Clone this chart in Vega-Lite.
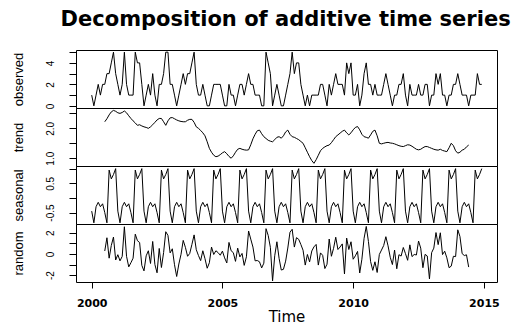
{
"$schema": "https://vega.github.io/schema/vega-lite/v6.json",
"background": "white",
"padding": {"left": 11, "top": 8, "right": 5, "bottom": 0},
"title": {"text": "Decomposition of additive time series", "font": "DejaVu Sans", "fontSize": 21, "fontWeight": "bold", "color": "black", "anchor": "middle", "offset": 20, "dx": 30},
"datasets": {"d": [
{"time":2000.0,"observed":1,"trend":null,"seasonal":-0.45,"random":null},
{"time":2000.083,"observed":0,"trend":null,"seasonal":-0.85,"random":null},
{"time":2000.167,"observed":1,"trend":null,"seasonal":-0.3,"random":null},
{"time":2000.25,"observed":2,"trend":null,"seasonal":-0.15,"random":null},
{"time":2000.333,"observed":1,"trend":null,"seasonal":-0.3,"random":null},
{"time":2000.417,"observed":2,"trend":null,"seasonal":-0.2,"random":null},
{"time":2000.5,"observed":2,"trend":2.22,"seasonal":-0.5,"random":0.28},
{"time":2000.583,"observed":3,"trend":2.32,"seasonal":-0.85,"random":1.53},
{"time":2000.667,"observed":3,"trend":2.45,"seasonal":0.95,"random":-0.4},
{"time":2000.75,"observed":4,"trend":2.55,"seasonal":0.65,"random":0.8},
{"time":2000.833,"observed":5,"trend":2.6,"seasonal":0.8,"random":1.6},
{"time":2000.917,"observed":3,"trend":2.57,"seasonal":1.0,"random":-0.57},
{"time":2001.0,"observed":2,"trend":2.52,"seasonal":-0.45,"random":-0.07},
{"time":2001.083,"observed":1,"trend":2.5,"seasonal":-0.85,"random":-0.65},
{"time":2001.167,"observed":2,"trend":2.53,"seasonal":-0.3,"random":-0.23},
{"time":2001.25,"observed":5,"trend":2.58,"seasonal":-0.15,"random":2.57},
{"time":2001.333,"observed":2,"trend":2.52,"seasonal":-0.3,"random":-0.22},
{"time":2001.417,"observed":1,"trend":2.42,"seasonal":-0.2,"random":-1.22},
{"time":2001.5,"observed":1,"trend":2.33,"seasonal":-0.5,"random":-0.83},
{"time":2001.583,"observed":1,"trend":2.25,"seasonal":-0.85,"random":-0.4},
{"time":2001.667,"observed":5,"trend":2.18,"seasonal":0.95,"random":1.87},
{"time":2001.75,"observed":4,"trend":2.1,"seasonal":0.65,"random":1.25},
{"time":2001.833,"observed":4,"trend":2.12,"seasonal":0.8,"random":1.08},
{"time":2001.917,"observed":2,"trend":2.08,"seasonal":1.0,"random":-1.08},
{"time":2002.0,"observed":0,"trend":2.05,"seasonal":-0.45,"random":-1.6},
{"time":2002.083,"observed":1,"trend":2.03,"seasonal":-0.85,"random":-0.18},
{"time":2002.167,"observed":2,"trend":2.0,"seasonal":-0.3,"random":0.3},
{"time":2002.25,"observed":1,"trend":2.05,"seasonal":-0.15,"random":-0.9},
{"time":2002.333,"observed":3,"trend":2.12,"seasonal":-0.3,"random":1.18},
{"time":2002.417,"observed":1,"trend":2.2,"seasonal":-0.2,"random":-1.0},
{"time":2002.5,"observed":0,"trend":2.28,"seasonal":-0.5,"random":-1.78},
{"time":2002.583,"observed":2,"trend":2.33,"seasonal":-0.85,"random":0.52},
{"time":2002.667,"observed":2,"trend":2.33,"seasonal":0.95,"random":-1.28},
{"time":2002.75,"observed":3,"trend":2.22,"seasonal":0.65,"random":0.13},
{"time":2002.833,"observed":5,"trend":2.1,"seasonal":0.8,"random":2.1},
{"time":2002.917,"observed":5,"trend":2.25,"seasonal":1.0,"random":1.75},
{"time":2003.0,"observed":2,"trend":2.35,"seasonal":-0.45,"random":0.1},
{"time":2003.083,"observed":2,"trend":2.36,"seasonal":-0.85,"random":0.49},
{"time":2003.167,"observed":1,"trend":2.32,"seasonal":-0.3,"random":-1.02},
{"time":2003.25,"observed":0,"trend":2.28,"seasonal":-0.15,"random":-2.13},
{"time":2003.333,"observed":1,"trend":2.25,"seasonal":-0.3,"random":-0.95},
{"time":2003.417,"observed":2,"trend":2.23,"seasonal":-0.2,"random":-0.03},
{"time":2003.5,"observed":3,"trend":2.22,"seasonal":-0.5,"random":1.28},
{"time":2003.583,"observed":2,"trend":2.22,"seasonal":-0.85,"random":0.63},
{"time":2003.667,"observed":3,"trend":2.27,"seasonal":0.95,"random":-0.22},
{"time":2003.75,"observed":3,"trend":2.3,"seasonal":0.65,"random":0.05},
{"time":2003.833,"observed":4,"trend":2.3,"seasonal":0.8,"random":0.9},
{"time":2003.917,"observed":5,"trend":2.2,"seasonal":1.0,"random":1.8},
{"time":2004.0,"observed":2,"trend":2.05,"seasonal":-0.45,"random":0.4},
{"time":2004.083,"observed":1,"trend":2.0,"seasonal":-0.85,"random":-0.15},
{"time":2004.167,"observed":1,"trend":1.93,"seasonal":-0.3,"random":-0.63},
{"time":2004.25,"observed":2,"trend":1.85,"seasonal":-0.15,"random":0.3},
{"time":2004.333,"observed":1,"trend":1.75,"seasonal":-0.3,"random":-0.45},
{"time":2004.417,"observed":0,"trend":1.55,"seasonal":-0.2,"random":-1.35},
{"time":2004.5,"observed":0,"trend":1.33,"seasonal":-0.5,"random":-0.83},
{"time":2004.583,"observed":1,"trend":1.2,"seasonal":-0.85,"random":0.65},
{"time":2004.667,"observed":2,"trend":1.1,"seasonal":0.95,"random":-0.05},
{"time":2004.75,"observed":2,"trend":1.05,"seasonal":0.65,"random":0.3},
{"time":2004.833,"observed":2,"trend":1.07,"seasonal":0.8,"random":0.13},
{"time":2004.917,"observed":2,"trend":1.12,"seasonal":1.0,"random":-0.12},
{"time":2005.0,"observed":1,"trend":1.18,"seasonal":-0.45,"random":0.27},
{"time":2005.083,"observed":0,"trend":1.22,"seasonal":-0.85,"random":-0.37},
{"time":2005.167,"observed":0,"trend":1.15,"seasonal":-0.3,"random":-0.85},
{"time":2005.25,"observed":2,"trend":1.06,"seasonal":-0.15,"random":1.09},
{"time":2005.333,"observed":1,"trend":1.0,"seasonal":-0.3,"random":0.3},
{"time":2005.417,"observed":1,"trend":1.08,"seasonal":-0.2,"random":0.12},
{"time":2005.5,"observed":0,"trend":1.2,"seasonal":-0.5,"random":-0.7},
{"time":2005.583,"observed":1,"trend":1.3,"seasonal":-0.85,"random":0.55},
{"time":2005.667,"observed":2,"trend":1.33,"seasonal":0.95,"random":-0.28},
{"time":2005.75,"observed":2,"trend":1.3,"seasonal":0.65,"random":0.05},
{"time":2005.833,"observed":1,"trend":1.28,"seasonal":0.8,"random":-1.08},
{"time":2005.917,"observed":2,"trend":1.27,"seasonal":1.0,"random":-0.27},
{"time":2006.0,"observed":3,"trend":1.28,"seasonal":-0.45,"random":2.17},
{"time":2006.083,"observed":2,"trend":1.45,"seasonal":-0.85,"random":1.4},
{"time":2006.167,"observed":2,"trend":1.65,"seasonal":-0.3,"random":0.65},
{"time":2006.25,"observed":1,"trend":1.8,"seasonal":-0.15,"random":-0.65},
{"time":2006.333,"observed":1,"trend":1.92,"seasonal":-0.3,"random":-0.62},
{"time":2006.417,"observed":1,"trend":1.94,"seasonal":-0.2,"random":-0.74},
{"time":2006.5,"observed":0,"trend":1.82,"seasonal":-0.5,"random":-1.32},
{"time":2006.583,"observed":0,"trend":1.72,"seasonal":-0.85,"random":-0.87},
{"time":2006.667,"observed":5,"trend":1.66,"seasonal":0.95,"random":2.39},
{"time":2006.75,"observed":4,"trend":1.6,"seasonal":0.65,"random":1.75},
{"time":2006.833,"observed":3,"trend":1.57,"seasonal":0.8,"random":0.63},
{"time":2006.917,"observed":0,"trend":1.55,"seasonal":1.0,"random":-2.55},
{"time":2007.0,"observed":1,"trend":1.62,"seasonal":-0.45,"random":-0.17},
{"time":2007.083,"observed":2,"trend":1.7,"seasonal":-0.85,"random":1.15},
{"time":2007.167,"observed":1,"trend":1.72,"seasonal":-0.3,"random":-0.42},
{"time":2007.25,"observed":0,"trend":1.67,"seasonal":-0.15,"random":-1.52},
{"time":2007.333,"observed":0,"trend":1.75,"seasonal":-0.3,"random":-1.45},
{"time":2007.417,"observed":1,"trend":1.88,"seasonal":-0.2,"random":-0.68},
{"time":2007.5,"observed":2,"trend":1.94,"seasonal":-0.5,"random":0.56},
{"time":2007.583,"observed":3,"trend":1.8,"seasonal":-0.85,"random":2.05},
{"time":2007.667,"observed":5,"trend":1.72,"seasonal":0.95,"random":2.33},
{"time":2007.75,"observed":3,"trend":1.7,"seasonal":0.65,"random":0.65},
{"time":2007.833,"observed":4,"trend":1.66,"seasonal":0.8,"random":1.54},
{"time":2007.917,"observed":4,"trend":1.62,"seasonal":1.0,"random":1.38},
{"time":2008.0,"observed":2,"trend":1.56,"seasonal":-0.45,"random":0.89},
{"time":2008.083,"observed":1,"trend":1.5,"seasonal":-0.85,"random":0.35},
{"time":2008.167,"observed":0,"trend":1.35,"seasonal":-0.3,"random":-1.05},
{"time":2008.25,"observed":1,"trend":1.2,"seasonal":-0.15,"random":-0.05},
{"time":2008.333,"observed":0,"trend":1.05,"seasonal":-0.3,"random":-0.75},
{"time":2008.417,"observed":1,"trend":0.92,"seasonal":-0.2,"random":0.28},
{"time":2008.5,"observed":1,"trend":0.83,"seasonal":-0.5,"random":0.67},
{"time":2008.583,"observed":1,"trend":0.95,"seasonal":-0.85,"random":0.9},
{"time":2008.667,"observed":1,"trend":1.1,"seasonal":0.95,"random":-1.05},
{"time":2008.75,"observed":2,"trend":1.25,"seasonal":0.65,"random":0.1},
{"time":2008.833,"observed":2,"trend":1.33,"seasonal":0.8,"random":-0.13},
{"time":2008.917,"observed":1,"trend":1.38,"seasonal":1.0,"random":-1.38},
{"time":2009.0,"observed":0,"trend":1.42,"seasonal":-0.45,"random":-0.97},
{"time":2009.083,"observed":2,"trend":1.44,"seasonal":-0.85,"random":1.41},
{"time":2009.167,"observed":1,"trend":1.52,"seasonal":-0.3,"random":-0.22},
{"time":2009.25,"observed":2,"trend":1.62,"seasonal":-0.15,"random":0.53},
{"time":2009.333,"observed":3,"trend":1.72,"seasonal":-0.3,"random":1.58},
{"time":2009.417,"observed":2,"trend":1.78,"seasonal":-0.2,"random":0.42},
{"time":2009.5,"observed":2,"trend":1.84,"seasonal":-0.5,"random":0.66},
{"time":2009.583,"observed":2,"trend":1.9,"seasonal":-0.85,"random":0.95},
{"time":2009.667,"observed":1,"trend":1.94,"seasonal":0.95,"random":-1.89},
{"time":2009.75,"observed":4,"trend":1.85,"seasonal":0.65,"random":1.5},
{"time":2009.833,"observed":3,"trend":1.78,"seasonal":0.8,"random":0.42},
{"time":2009.917,"observed":4,"trend":1.85,"seasonal":1.0,"random":1.15},
{"time":2010.0,"observed":1,"trend":1.95,"seasonal":-0.45,"random":-0.5},
{"time":2010.083,"observed":1,"trend":2.03,"seasonal":-0.85,"random":-0.18},
{"time":2010.167,"observed":2,"trend":2.06,"seasonal":-0.3,"random":0.24},
{"time":2010.25,"observed":0,"trend":1.95,"seasonal":-0.15,"random":-1.8},
{"time":2010.333,"observed":1,"trend":1.8,"seasonal":-0.3,"random":-0.5},
{"time":2010.417,"observed":3,"trend":1.72,"seasonal":-0.2,"random":1.48},
{"time":2010.5,"observed":4,"trend":1.7,"seasonal":-0.5,"random":2.6},
{"time":2010.583,"observed":2,"trend":1.67,"seasonal":-0.85,"random":1.18},
{"time":2010.667,"observed":2,"trend":1.78,"seasonal":0.95,"random":-0.73},
{"time":2010.75,"observed":1,"trend":1.9,"seasonal":0.65,"random":-1.55},
{"time":2010.833,"observed":2,"trend":1.94,"seasonal":0.8,"random":-0.74},
{"time":2010.917,"observed":1,"trend":1.75,"seasonal":1.0,"random":-1.75},
{"time":2011.0,"observed":1,"trend":1.5,"seasonal":-0.45,"random":-0.05},
{"time":2011.083,"observed":1,"trend":1.48,"seasonal":-0.85,"random":0.37},
{"time":2011.167,"observed":2,"trend":1.5,"seasonal":-0.3,"random":0.8},
{"time":2011.25,"observed":3,"trend":1.52,"seasonal":-0.15,"random":1.63},
{"time":2011.333,"observed":2,"trend":1.53,"seasonal":-0.3,"random":0.77},
{"time":2011.417,"observed":1,"trend":1.51,"seasonal":-0.2,"random":-0.31},
{"time":2011.5,"observed":0,"trend":1.5,"seasonal":-0.5,"random":-1.0},
{"time":2011.583,"observed":1,"trend":1.48,"seasonal":-0.85,"random":0.37},
{"time":2011.667,"observed":1,"trend":1.45,"seasonal":0.95,"random":-1.4},
{"time":2011.75,"observed":2,"trend":1.42,"seasonal":0.65,"random":-0.07},
{"time":2011.833,"observed":2,"trend":1.4,"seasonal":0.8,"random":-0.2},
{"time":2011.917,"observed":3,"trend":1.39,"seasonal":1.0,"random":0.61},
{"time":2012.0,"observed":1,"trend":1.42,"seasonal":-0.45,"random":0.03},
{"time":2012.083,"observed":0,"trend":1.45,"seasonal":-0.85,"random":-0.6},
{"time":2012.167,"observed":2,"trend":1.44,"seasonal":-0.3,"random":0.86},
{"time":2012.25,"observed":1,"trend":1.4,"seasonal":-0.15,"random":-0.25},
{"time":2012.333,"observed":1,"trend":1.35,"seasonal":-0.3,"random":-0.05},
{"time":2012.417,"observed":1,"trend":1.3,"seasonal":-0.2,"random":-0.1},
{"time":2012.5,"observed":2,"trend":1.28,"seasonal":-0.5,"random":1.22},
{"time":2012.583,"observed":1,"trend":1.3,"seasonal":-0.85,"random":0.55},
{"time":2012.667,"observed":1,"trend":1.35,"seasonal":0.95,"random":-1.3},
{"time":2012.75,"observed":2,"trend":1.39,"seasonal":0.65,"random":-0.04},
{"time":2012.833,"observed":2,"trend":1.39,"seasonal":0.8,"random":-0.19},
{"time":2012.917,"observed":0,"trend":1.36,"seasonal":1.0,"random":-2.36},
{"time":2013.0,"observed":1,"trend":1.33,"seasonal":-0.45,"random":0.12},
{"time":2013.083,"observed":1,"trend":1.3,"seasonal":-0.85,"random":0.55},
{"time":2013.167,"observed":3,"trend":1.28,"seasonal":-0.3,"random":2.02},
{"time":2013.25,"observed":2,"trend":1.27,"seasonal":-0.15,"random":0.88},
{"time":2013.333,"observed":3,"trend":1.3,"seasonal":-0.3,"random":2.0},
{"time":2013.417,"observed":1,"trend":1.26,"seasonal":-0.2,"random":-0.06},
{"time":2013.5,"observed":1,"trend":1.24,"seasonal":-0.5,"random":0.26},
{"time":2013.583,"observed":0,"trend":1.22,"seasonal":-0.85,"random":-0.37},
{"time":2013.667,"observed":1,"trend":1.35,"seasonal":0.95,"random":-1.3},
{"time":2013.75,"observed":1,"trend":1.5,"seasonal":0.65,"random":-1.15},
{"time":2013.833,"observed":2,"trend":1.42,"seasonal":0.8,"random":-0.22},
{"time":2013.917,"observed":2,"trend":1.25,"seasonal":1.0,"random":-0.25},
{"time":2014.0,"observed":3,"trend":1.17,"seasonal":-0.45,"random":2.28},
{"time":2014.083,"observed":2,"trend":1.2,"seasonal":-0.85,"random":1.65},
{"time":2014.167,"observed":1,"trend":1.27,"seasonal":-0.3,"random":0.03},
{"time":2014.25,"observed":1,"trend":1.3,"seasonal":-0.15,"random":-0.15},
{"time":2014.333,"observed":1,"trend":1.38,"seasonal":-0.3,"random":-0.08},
{"time":2014.417,"observed":0,"trend":1.44,"seasonal":-0.2,"random":-1.24},
{"time":2014.5,"observed":1,"trend":null,"seasonal":-0.5,"random":null},
{"time":2014.583,"observed":1,"trend":null,"seasonal":-0.85,"random":null},
{"time":2014.667,"observed":1,"trend":null,"seasonal":0.95,"random":null},
{"time":2014.75,"observed":3,"trend":null,"seasonal":0.65,"random":null},
{"time":2014.833,"observed":2,"trend":null,"seasonal":0.8,"random":null},
{"time":2014.917,"observed":2,"trend":null,"seasonal":1.0,"random":null}
]},
"data": {"name": "d"},
"spacing": 0,
"bounds": "flush",
"vconcat": [
{"width": 421, "height": 58,
 "mark": {"type": "line", "stroke": "black", "strokeWidth": 1},
 "encoding": {
  "x": {"field": "time", "type": "quantitative", "scale": {"domain": [1999.4, 2015.5], "nice": false, "zero": false}, "axis": null},
  "y": {"field": "observed", "type": "quantitative", "scale": {"domain": [-0.2, 5.2], "nice": false, "zero": false},
        "axis": {"title": "observed", "values": [0,1,2,3,4,5], "labelExpr": "datum.value % 2 == 0 ? datum.label : ''"}}
 }},
{"width": 421, "height": 58,
 "mark": {"type": "line", "stroke": "black", "strokeWidth": 1},
 "encoding": {
  "x": {"field": "time", "type": "quantitative", "scale": {"domain": [1999.4, 2015.5], "nice": false, "zero": false}, "axis": null},
  "y": {"field": "trend", "type": "quantitative", "scale": {"domain": [0.74, 2.68], "nice": false, "zero": false},
        "axis": {"title": "trend", "values": [1,1.5,2,2.5], "labelExpr": "datum.value == 1 ? '1.0' : datum.value == 2 ? '2.0' : ''"}}
 }},
{"width": 421, "height": 58,
 "mark": {"type": "line", "stroke": "black", "strokeWidth": 1},
 "encoding": {
  "x": {"field": "time", "type": "quantitative", "scale": {"domain": [1999.4, 2015.5], "nice": false, "zero": false}, "axis": null},
  "y": {"field": "seasonal", "type": "quantitative", "scale": {"domain": [-0.89, 1.09], "nice": false, "zero": false},
        "axis": {"title": "seasonal", "values": [-0.5,0,0.5,1], "labelExpr": "datum.value == 0.5 ? '0.5' : datum.value == -0.5 ? '-0.5' : ''"}}
 }},
{"width": 421, "height": 58,
 "mark": {"type": "line", "stroke": "black", "strokeWidth": 1},
 "encoding": {
  "x": {"field": "time", "type": "quantitative", "scale": {"domain": [1999.4, 2015.5], "nice": false, "zero": false},
        "axis": {"title": "Time", "values": [2000, 2005, 2010, 2015], "format": "d", "orient": "bottom",
                 "labelFont": "DejaVu Sans", "labelFontWeight": "bold", "labelFontSize": 11, "labelPadding": 9,
                 "tickSize": 6, "titleFont": "DejaVu Sans", "titleFontSize": 15, "titlePadding": 1}},
  "y": {"field": "random", "type": "quantitative", "scale": {"domain": [-2.65, 2.83], "nice": false, "zero": false},
        "axis": {"title": "random", "values": [-2,-1,0,1,2], "labelExpr": "datum.value == 2 ? '2' : datum.value == 0 ? '0' : datum.value == -2 ? '-2' : ''"}}
 }}
],
"config": {
 "view": {"stroke": "black", "strokeWidth": 1},
 "axis": {"grid": false, "domain": false, "tickColor": "black", "tickSize": 7, "labelColor": "black", "titleColor": "black",
          "labelFont": "Liberation Sans", "labelFontSize": 10, "titleFont": "Liberation Sans", "titleFontSize": 13, "titleFontWeight": "normal"},
 "axisY": {"labelAngle": 270, "labelAlign": "center", "labelBaseline": "middle", "labelPadding": 19, "titlePadding": 27, "titleBaseline": "middle"}
}
}
